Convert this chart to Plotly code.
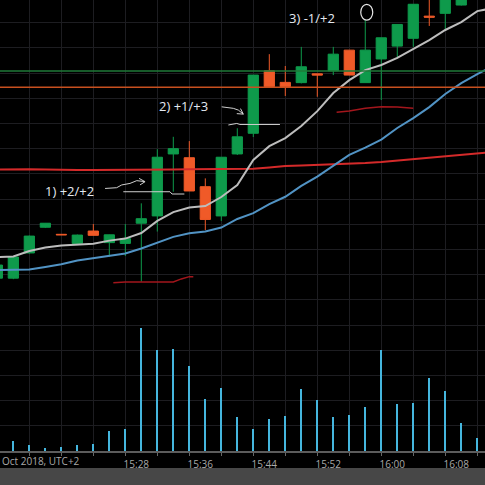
import plotly.graph_objects as go

DAY = "2018-10-15 "

# 2-minute bars, 15:12 .. 16:14
TIMES = [
    "15:12", "15:14", "15:16", "15:18", "15:20", "15:22", "15:24", "15:26",
    "15:28", "15:30", "15:32", "15:34", "15:36", "15:38", "15:40", "15:42",
    "15:44", "15:46", "15:48", "15:50", "15:52", "15:54", "15:56", "15:58",
    "16:00", "16:02", "16:04", "16:06", "16:08", "16:10", "16:12", "16:14",
]

# candles 15:12 .. 16:10
OPEN = [68.6, 68.6, 78.6, 88.8, 86.0, 82.4, 87.3, 82.7, 82.4, 90.4,
        93.3, 117.9, 116.4, 104.9, 93.3, 117.9, 126.1, 150.9, 146.3, 146.2,
        149.7, 150.9, 159.1, 146.2, 155.6, 160.7, 163.8, 172.6, 173.7, 177.0]
HIGH = [74.2, 77.4, 85.5, 90.5, 86.0, 85.9, 90.1, 85.9, 90.1, 98.3,
        119.8, 124.7, 123.0, 108.2, 116.7, 128.1, 149.2, 157.5, 152.8, 160.4,
        149.7, 160.4, 159.1, 171.0, 164.0, 169.3, 177.3, 181.0, 182.1, 183.7]
LOW = [68.2, 68.2, 78.4, 88.5, 85.8, 82.3, 85.5, 77.1, 77.4, 67.2,
       87.1, 102.9, 103.2, 87.7, 91.3, 117.5, 124.6, 144.4, 140.9, 145.9,
       140.6, 149.2, 149.2, 146.2, 139.3, 155.8, 160.4, 168.7, 167.5, 176.8]
CLOSE = [73.8, 77.0, 85.3, 90.4, 85.8, 85.7, 85.6, 85.8, 84.3, 92.2,
         116.6, 120.0, 103.2, 91.9, 116.6, 124.7, 149.2, 144.6, 144.6, 152.5,
         149.2, 157.5, 149.2, 159.1, 164.0, 169.3, 177.3, 172.2, 181.0, 182.9]

# volume 15:14 .. 16:12
VOLUME = [100, 60, 30, 40, 60, 67, 197, 224, 1230, 1007,
          1017, 850, 517, 634, 340, 224, 324, 347, 620, 507,
          340, 364, 437, 1010, 467, 477, 734, 597, 277, 127]

# moving averages 15:12 .. 16:14
MA_FAST = [77.0, 77.2, 79.4, 80.8, 81.6, 81.9, 82.3, 83.5, 84.3, 86.5,
           91.3, 94.8, 96.6, 97.2, 100.8, 105.6, 115.5, 121.0, 124.2, 129.0,
           134.9, 142.1, 147.2, 151.2, 153.2, 156.0, 159.5, 163.1, 167.1, 170.2,
           174.6, 175.8]
MA_MID = [71.8, 71.8, 72.0, 73.0, 74.1, 75.6, 76.6, 77.4, 78.4, 80.4,
          82.7, 85.0, 86.4, 87.1, 88.7, 92.1, 94.4, 98.0, 100.9, 105.2,
          108.9, 113.3, 117.5, 120.4, 123.6, 128.2, 132.1, 136.5, 141.7, 146.0,
          149.6, 152.8]
MA_SLOW = [111.7, 111.8, 111.8, 111.7, 111.5, 111.5, 111.5, 111.5, 111.5, 111.5,
           111.6, 111.7, 111.8, 111.9, 111.9, 111.9, 112.0, 112.5, 113.1, 113.3,
           113.5, 113.7, 114.0, 114.3, 114.7, 115.3, 115.9, 116.3, 116.9, 117.5,
           118.1, 118.7]

# horizontal levels
LEVEL_GREEN = 150.8
LEVEL_ORANGE = 144.4

# short dark red segments
SEG1_T = ["15:26:30", "15:28", "15:30", "15:32", "15:34", "15:35", "15:36", "15:36:30"]
SEG1_Y = [66.8, 67.1, 67.1, 67.1, 67.1, 68.3, 69.2, 69.2]
SEG2_T = ["15:54:25", "15:56", "15:58", "16:00", "16:02", "16:04"]
SEG2_Y = [134.4, 134.9, 136.0, 136.6, 136.5, 136.0]

# hand drawn notes
NOTES = ["1) +2/+2", "2) +1/+3", "3) -1/+2"]
NOTES_T = ["15:21:05", "15:35:18", "15:51:18"]
NOTES_Y = [103.0, 136.9, 171.9]

SCRIBBLE1_T = ["15:25:28", "15:26:55", "15:27:33", "15:28:35", "15:29:26", "15:30:28",
               None, "15:29:43", "15:30:28", "15:29:50"]
SCRIBBLE1_Y = [104.2, 104.5, 105.6, 106.2, 107.3, 106.9, None, 108.2, 106.9, 105.6]
UNDERLINE1_T = ["15:27:45", "15:33:35", "15:33:50", "15:35:23"]
UNDERLINE1_Y = [102.9, 102.9, 102.0, 102.0]
SCRIBBLE2_T = ["15:40:03", "15:41:30", "15:42:08", "15:42:45", None,
               "15:42:24", "15:42:45", "15:41:56"]
SCRIBBLE2_Y = [136.6, 136.0, 135.3, 133.7, None, 135.9, 133.7, 133.9]
UNDERLINE2_T = ["15:40:53", "15:41:56", "15:42:20", "15:47:20"]
UNDERLINE2_Y = [129.4, 130.0, 129.6, 129.6]

CIRCLE_T = ["15:57:26", "15:58:56"]
CIRCLE_Y = [171.0, 177.3]

# time axis: grid every 4 min, labels every 8 min
GRID_TIMES = ["15:16", "15:20", "15:24", "15:28", "15:32", "15:36", "15:40", "15:44",
              "15:48", "15:52", "15:56", "16:00", "16:04", "16:08", "16:12"]
LABEL_TIMES = ["15:28", "15:36", "15:44", "15:52", "16:00", "16:08"]


def stamp(ts):
    return [None if t is None else DAY + t for t in ts]


x_all = stamp(TIMES)
x_candles = x_all[:len(OPEN)]
x_volume = x_all[1:1 + len(VOLUME)]

GREEN = "#0e9a4b"
ORANGE = "#f05a28"
GRID = "#1d1d21"

fig = go.Figure()

fig.add_trace(go.Bar(
    x=x_volume, y=VOLUME, yaxis="y2", width=10000,
    marker=dict(color="#45b6de", line=dict(width=0)),
    showlegend=False, hoverinfo="skip",
))

fig.add_trace(go.Scatter(x=x_all, y=MA_SLOW, mode="lines",
                         line=dict(color="#d42a2a", width=2), showlegend=False))
fig.add_trace(go.Scatter(x=x_all, y=MA_MID, mode="lines",
                         line=dict(color="#5193c4", width=2), showlegend=False))
fig.add_trace(go.Scatter(x=x_all, y=MA_FAST, mode="lines",
                         line=dict(color="#bdbdbd", width=2), showlegend=False))

for seg_t, seg_y in [(SEG1_T, SEG1_Y), (SEG2_T, SEG2_Y)]:
    fig.add_trace(go.Scatter(x=stamp(seg_t), y=seg_y, mode="lines",
                             line=dict(color="#a3161c", width=1.5), showlegend=False))

fig.add_hline(y=LEVEL_GREEN, line_color="#1f7a38", line_width=1.5)
fig.add_hline(y=LEVEL_ORANGE, line_color="#c8501f", line_width=1.5)

fig.add_trace(go.Candlestick(
    x=x_candles, open=OPEN, high=HIGH, low=LOW, close=CLOSE,
    increasing=dict(line=dict(color=GREEN, width=1), fillcolor=GREEN),
    decreasing=dict(line=dict(color=ORANGE, width=1), fillcolor=ORANGE),
    whiskerwidth=0, showlegend=False,
))

for sx, sy in [(SCRIBBLE1_T, SCRIBBLE1_Y), (UNDERLINE1_T, UNDERLINE1_Y),
               (SCRIBBLE2_T, SCRIBBLE2_Y), (UNDERLINE2_T, UNDERLINE2_Y)]:
    fig.add_trace(go.Scatter(x=stamp(sx), y=sy, mode="lines", connectgaps=False,
                             line=dict(color="#cfcfcf", width=1), showlegend=False))

fig.add_shape(type="circle", xref="x", yref="y",
              x0=DAY + CIRCLE_T[0], x1=DAY + CIRCLE_T[1],
              y0=CIRCLE_Y[0], y1=CIRCLE_Y[1],
              line=dict(color="#e6e6e6", width=1.2))

for text, t, y in zip(NOTES, NOTES_T, NOTES_Y):
    fig.add_annotation(x=DAY + t, y=y, text=text, showarrow=False,
                       font=dict(family="Open Sans", size=13, color="#e4e8f0"))

fig.add_annotation(xref="paper", yref="paper", x=0, y=-0.023, xanchor="left",
                   yanchor="middle", text="Oct 2018, UTC+2", showarrow=False,
                   font=dict(family="Open Sans", size=10, color="#a9a9a9"))

fig.add_shape(type="rect", xref="paper", yref="paper", x0=0, x1=1,
              y0=-0.08, y1=-0.0377, fillcolor="#474747", line=dict(width=0),
              layer="below")

fig.update_layout(
    width=485, height=485,
    margin=dict(l=0, r=0, t=0, b=34),
    paper_bgcolor="#000000", plot_bgcolor="#000000",
    showlegend=False,
    bargap=0,
    boxgap=0.36, boxgroupgap=0,
    xaxis=dict(
        type="date",
        range=[DAY + "15:12:20", DAY + "16:12:58"],
        rangeslider=dict(visible=False),
        tickmode="array",
        tickvals=stamp(GRID_TIMES),
        ticktext=[t if t in LABEL_TIMES else "" for t in GRID_TIMES],
        ticks="outside", ticklen=3, tickcolor="#666666",
        ticklabelshift=11,
        tickfont=dict(family="Open Sans", size=10, color="#a9a9a9"),
        showgrid=True, gridcolor=GRID, gridwidth=1,
        showline=True, linecolor="#5c5c5c", linewidth=1.5,
        zeroline=False,
    ),
    yaxis=dict(
        range=[0, 179.0], dtick=10, tick0=0,
        showgrid=True, gridcolor=GRID, gridwidth=1,
        showticklabels=False, zeroline=False, fixedrange=True,
    ),
    yaxis2=dict(
        overlaying="y", range=[0, 4510], showgrid=False,
        showticklabels=False, zeroline=False,
    ),
)

fig.write_html("out.html", config={"displayModeBar": False},
               post_script="document.body.style.margin='0';")
